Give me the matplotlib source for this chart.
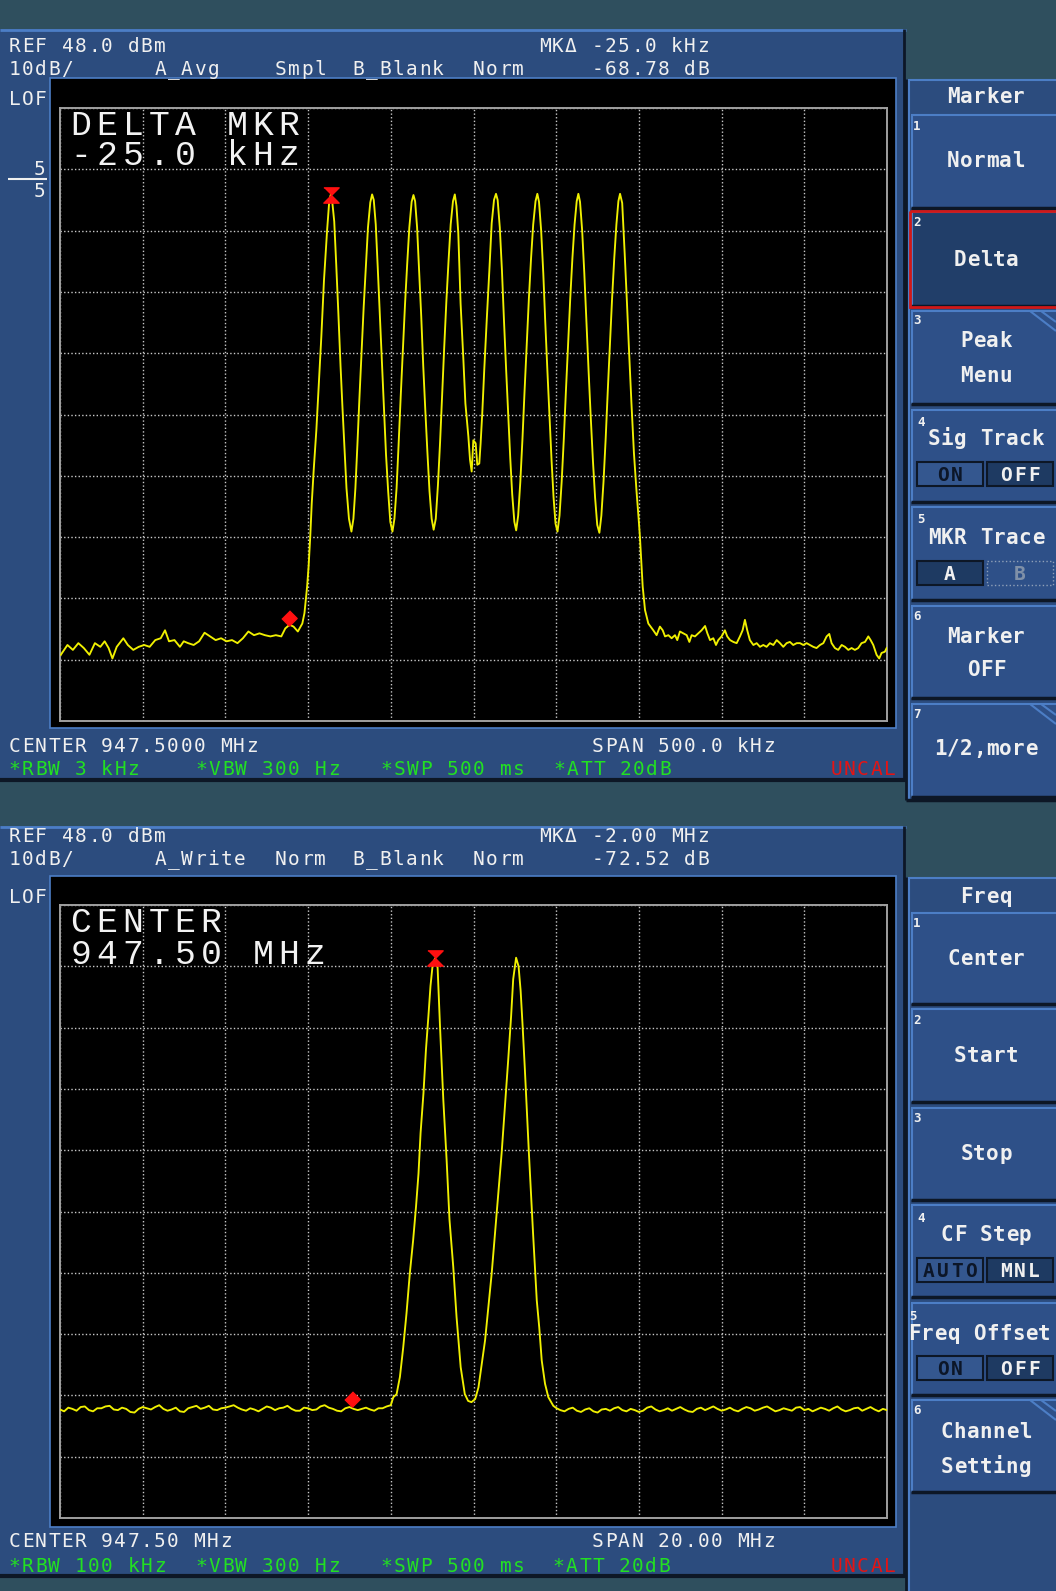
import matplotlib
matplotlib.use('Agg')
import matplotlib.pyplot as plt
import numpy as np
from matplotlib.patches import Rectangle
from matplotlib.transforms import ScaledTranslation

REF_DBM = 48.0      # top graticule line, 10 dB/div, 10 divisions
DB_DIV = 10.0

# upper screen: span 500 kHz around 947.5 MHz, x = offset in kHz, y = dBm
top_floor_left = [
    (-249.5, -41.2), (-245.5, -39.6), (-242.2, -40.4), (-238.9, -39.3), (-235.6, -40.1),
    (-232.2, -41.2), (-228.9, -39.3), (-225.6, -39.9), (-223.0, -39.0), (-220.6, -40.1),
    (-218.3, -41.8), (-215.7, -39.9), (-211.7, -38.5), (-209.0, -39.6), (-205.7, -40.4),
    (-202.4, -39.9), (-199.1, -39.6), (-195.8, -39.9), (-192.4, -38.8), (-189.1, -38.5),
    (-186.5, -37.2), (-184.1, -39.0), (-180.8, -38.8), (-177.5, -39.9), (-175.2, -39.0),
    (-172.5, -39.3), (-169.2, -39.6), (-165.9, -39.0), (-162.6, -37.6), (-159.3, -38.2),
    (-155.9, -38.8), (-152.6, -38.5), (-149.3, -39.0), (-146.0, -38.8), (-142.7, -39.3),
    (-139.4, -38.5), (-136.1, -37.4), (-132.7, -38.0), (-129.4, -37.7), (-126.1, -38.0),
    (-122.8, -38.2), (-119.5, -38.0), (-116.2, -38.2), (-113.8, -36.9), (-111.2, -36.3),
    (-108.8, -36.6), (-106.2, -37.4),
]
top_carriers = [
    (-103.5, -36.1), (-102.2, -34.4), (-100.6, -30.1), (-99.7, -26.8), (-98.7, -21.9),
    (-97.8, -16.5), (-96.6, -11.0), (-95.0, -4.5), (-93.6, 2.5), (-92.0, 10.7),
    (-90.4, 19.9), (-88.5, 28.1), (-87.3, 32.5), (-86.4, 33.8), (-85.5, 33.0),
    (-84.2, 29.5), (-83.0, 22.5), (-81.7, 14.5), (-80.4, 6.0), (-79.2, -1.0),
    (-78.0, -7.5), (-76.8, -14.0), (-75.3, -19.0), (-73.8, -21.1),
    (-72.6, -19.0), (-71.4, -14.0), (-70.2, -7.0), (-69.0, 0.5), (-67.7, 8.0),
    (-66.4, 15.5), (-65.1, 22.0), (-63.8, 28.5), (-62.4, 32.6), (-61.3, 33.9),
    (-60.3, 33.0), (-59.1, 29.0), (-57.9, 22.0), (-56.6, 14.0), (-55.3, 6.0),
    (-54.1, -1.5), (-52.9, -8.5), (-51.6, -14.5), (-50.3, -19.5), (-49.0, -21.1),
    (-47.8, -19.0), (-46.5, -14.0), (-45.3, -7.0), (-44.0, 1.0), (-42.7, 8.5),
    (-41.4, 16.0), (-40.1, 22.5), (-38.8, 28.5), (-37.4, 32.7), (-36.3, 33.8),
    (-35.3, 32.8), (-34.1, 28.5), (-32.9, 21.5), (-31.6, 14.0), (-30.4, 6.0),
    (-29.1, -1.5), (-27.9, -8.0), (-26.6, -14.5), (-25.3, -19.0), (-24.1, -20.8),
    (-22.8, -19.0), (-21.5, -13.5), (-20.2, -6.5), (-19.0, 1.0), (-17.7, 9.0),
    (-16.4, 16.5), (-15.1, 23.0), (-13.8, 29.0), (-12.4, 32.8), (-11.3, 33.9),
    (-10.3, 32.0), (-9.2, 27.6), (-7.8, 16.1), (-6.2, 7.4), (-4.9, -0.2),
    (-3.1, -5.6), (-2.1, -9.4), (-1.1, -11.3), (-0.1, -6.2), (1.3, -6.7),
    (2.3, -10.2), (3.5, -10.0), (4.3, -6.7), (5.3, -1.8), (6.5, 5.3),
    (8.0, 13.4), (9.6, 21.6), (11.0, 29.2), (12.4, 33.0), (13.6, 34.0),
    (14.6, 33.0), (15.9, 28.5), (17.2, 21.5), (18.4, 13.5), (19.7, 5.5),
    (21.0, -2.0), (22.2, -9.0), (23.4, -15.0), (24.7, -19.5), (25.8, -20.9),
    (27.0, -18.5), (28.3, -13.0), (29.6, -6.0), (30.9, 2.0), (32.2, 9.5),
    (33.5, 17.0), (34.8, 23.5), (36.1, 29.0), (37.5, 32.8), (38.6, 34.0),
    (39.6, 32.7), (40.9, 28.0), (42.2, 21.0), (43.4, 13.0), (44.7, 5.0),
    (46.0, -2.5), (47.2, -9.5), (48.4, -15.5), (49.6, -19.8), (50.8, -21.1),
    (52.0, -18.5), (53.3, -13.0), (54.6, -6.0), (55.9, 2.0), (57.2, 9.5),
    (58.5, 17.0), (59.8, 23.5), (61.1, 29.0), (62.4, 32.8), (63.4, 34.0),
    (64.4, 32.7), (65.7, 28.0), (67.0, 21.0), (68.3, 13.0), (69.6, 5.0),
    (70.9, -2.5), (72.2, -9.5), (73.5, -15.5), (74.8, -20.0), (76.1, -21.3),
    (77.3, -18.5), (78.6, -13.0), (79.9, -6.0), (81.2, 2.0), (82.5, 9.5),
    (83.8, 17.0), (85.1, 23.5), (86.4, 29.0), (87.6, 32.8), (88.6, 34.0),
    (89.9, 32.5), (91.4, 24.3), (92.8, 16.1), (94.1, 8.0), (95.5, -0.2),
    (97.0, -8.3), (98.5, -14.3), (99.9, -19.2), (100.6, -21.9), (101.5, -26.3),
    (102.3, -30.1), (103.7, -33.9), (105.7, -36.1),
]
top_floor_right = [
    (108.7, -37.2), (110.7, -38.0), (112.7, -36.6), (114.4, -37.2), (115.8, -38.2),
    (117.8, -38.0), (119.8, -38.5), (121.8, -38.0), (123.2, -38.8), (124.8, -37.4),
    (126.8, -37.7), (128.9, -38.0), (130.5, -39.1), (131.9, -38.0), (133.9, -38.2),
    (135.9, -37.7), (137.9, -37.2), (140.0, -36.5), (141.4, -37.7), (143.0, -38.8),
    (145.0, -38.5), (146.6, -39.6), (148.0, -38.8), (150.0, -38.2), (152.0, -37.2),
    (153.4, -38.2), (155.1, -38.8), (157.1, -39.1), (159.1, -39.3), (161.1, -38.2),
    (162.7, -37.2), (164.1, -35.5), (165.5, -37.2), (167.1, -38.8), (169.2, -39.6),
    (171.2, -39.3), (173.2, -39.9), (175.2, -39.6), (177.2, -39.9), (179.2, -39.3),
    (181.3, -39.6), (183.3, -38.8), (185.3, -39.3), (187.3, -39.9), (189.3, -39.3),
    (191.3, -39.1), (193.3, -39.6), (195.4, -39.3), (197.4, -39.3), (199.4, -39.6),
    (201.4, -39.3), (203.4, -39.6), (205.4, -39.9), (207.4, -40.1), (209.5, -39.6),
    (211.5, -39.3), (213.5, -38.2), (215.1, -37.8), (216.5, -39.3), (218.5, -40.1),
    (220.5, -40.4), (222.6, -39.6), (224.6, -39.9), (226.6, -40.4), (228.6, -40.1),
    (230.6, -40.4), (232.6, -40.1), (234.6, -39.3), (236.7, -39.1), (238.7, -38.2),
    (240.1, -38.8), (241.7, -39.6), (243.7, -41.2), (245.3, -41.8), (246.7, -40.9),
    (248.7, -40.7), (249.8, -40.1),
]
top_peak_mkr = (-86.4, 33.8)      # marker 1 (hourglass)
top_delta_mkr = (-111.4, -36.4)   # delta reference (diamond): -25.0 kHz

# lower screen: span 20 MHz, x = offset in MHz, y = dBm
bot_floor_left_mhz = np.linspace(-10.0, -2.0, 81)
bot_floor_left_dbm = [
    -34.3, -34.6, -34.0, -34.2, -34.5, -33.9, -33.8, -34.4, -34.6, -34.1,
    -34.1, -33.8, -33.7, -34.3, -34.4, -34.0, -34.2, -34.7, -34.8, -34.2,
    -33.9, -34.1, -34.3, -33.9, -33.6, -34.2, -34.5, -34.3, -34.0, -34.6,
    -34.7, -34.1, -33.9, -33.7, -34.2, -34.0, -33.7, -34.3, -34.4, -34.1,
    -34.0, -33.8, -33.6, -34.0, -34.3, -34.5, -34.1, -34.3, -34.6, -34.2,
    -33.8, -34.0, -34.4, -34.1, -34.0, -33.7, -34.2, -34.5, -34.5, -34.0,
    -34.1, -34.4, -34.3, -33.8, -33.6, -34.0, -34.2, -34.5, -34.6, -34.1,
    -33.9, -34.2, -34.4, -34.2, -34.0, -34.3, -34.5, -34.1, -34.1, -33.8,
    -33.6,
]
bot_carriers = [
    (-1.94, -32.3), (-1.86, -31.8), (-1.78, -29.0), (-1.70, -24.2), (-1.62, -18.6),
    (-1.54, -12.1), (-1.46, -6.7), (-1.39, -1.2), (-1.33, 4.2), (-1.28, 10.8),
    (-1.21, 17.3), (-1.15, 24.4), (-1.09, 29.9), (-1.04, 34.8), (-0.99, 38.1),
    (-0.93, 39.3), (-0.87, 38.1), (-0.81, 28.2), (-0.73, 16.2), (-0.65, 6.4),
    (-0.58, -3.4), (-0.49, -11.0), (-0.41, -19.2), (-0.31, -27.4), (-0.21, -31.8),
    (-0.13, -32.9), (-0.05, -33.1), (0.04, -32.6), (0.12, -30.7), (0.20, -26.9),
    (0.28, -23.0), (0.36, -17.6), (0.44, -12.1), (0.52, -5.6), (0.60, 1.0),
    (0.68, 7.5), (0.76, 15.2), (0.84, 22.8), (0.91, 29.9), (0.96, 35.9),
    (1.03, 39.4), (1.09, 38.0), (1.14, 34.0), (1.19, 28.0), (1.24, 21.5),
    (1.29, 14.5), (1.34, 7.5), (1.39, 1.0), (1.44, -5.5), (1.49, -11.5),
    (1.53, -16.5), (1.59, -20.9), (1.65, -26.3), (1.73, -30.1), (1.81, -32.3),
    (1.93, -33.7), (2.01, -34.1),
]
bot_floor_right_mhz = np.linspace(2.1, 10.0, 80)
bot_floor_right_dbm = [
    -34.4, -34.6, -34.2, -34.0, -34.5, -34.7, -34.3, -34.1, -34.6, -34.8,
    -34.3, -34.2, -34.5, -34.1, -33.9, -34.4, -34.6, -34.2, -34.4, -34.7,
    -34.5, -34.0, -33.8, -34.3, -34.6, -34.4, -34.1, -34.5, -34.2, -33.9,
    -34.3, -34.6, -34.7, -34.2, -34.0, -34.4, -34.1, -33.8, -34.2, -34.5,
    -34.3, -34.0, -34.4, -34.6, -34.2, -33.9, -34.1, -34.5, -34.3, -34.0,
    -33.8, -34.2, -34.6, -34.4, -34.1, -34.3, -34.5, -34.0, -33.9, -34.4,
    -34.2, -34.6, -34.3, -34.0, -34.2, -34.5, -34.1, -33.8, -34.3, -34.6,
    -34.4, -34.1, -34.0, -34.5, -34.2, -33.9, -34.3, -34.6, -34.2, -34.4,
]
bot_peak_mkr = (-0.93, 39.3)
bot_delta_mkr = (-2.93, -33.9)    # -2.00 MHz

# ---------------- screen look ----------------
W, H = 1056, 1591
TEAL = '#2F4F5E'
PANEL = '#2C4C7E'
BTN = '#2E5088'
BTN_SEL = '#213E69'
LITE = '#4C7EC6'
DARK = '#0D1726'
GRID = '#C8C8C8'
WHITE = '#F0F0F0'
GREEN = '#22E022'
RED = '#E41414'
YELLOW = '#F0F000'
GX0, GW, GH = 60, 827, 613    # graticule in pixels

fig = plt.figure(figsize=(W / 100, H / 100), dpi=100, facecolor=TEAL)
bg = fig.add_axes([0, 0, 1, 1], zorder=0)
bg.set_xlim(0, W)
bg.set_ylim(H, 0)
bg.axis('off')


def box(x0, y0, x1, y1, fc, ec='none', lw=0, ls='-', z=1):
    bg.add_patch(Rectangle((x0, y0), x1 - x0, y1 - y0, facecolor=fc,
                           edgecolor=ec, linewidth=lw, linestyle=ls, zorder=z))


def seg(x0, y0, x1, y1, c, lw=1.5, z=2):
    bg.plot([x0, x1], [y0, y1], color=c, lw=lw, zorder=z, solid_capstyle='butt')


def mono(x, y, s, pitch=13.2, size=14, color=WHITE, family='DejaVu Sans Mono', weight='normal'):
    # fixed pitch, one glyph per cell like the instrument font
    for i, ch in enumerate(s):
        if ch != ' ':
            fig.text((x + pitch * (i + 0.5)) / W, 1 - y / H, ch, fontsize=size, color=color,
                     family=family, weight=weight, ha='center', va='baseline')


def mono_c(cx, y, s, pitch=13.0, size=15, **kw):
    mono(cx - pitch * len(s) / 2, y, s, pitch, size, **kw)


def big(x, y, s):
    mono(x, y, s, pitch=26, size=25, color='#F2F2F2', family='Liberation Mono')


def screen(top, bot, frame):
    box(0, top, 906, bot, PANEL)
    seg(0, top + 1, 906, top + 1, LITE, 2)
    seg(0, bot, 906, bot, DARK, 3)
    seg(904, top, 904, bot, DARK, 2)
    box(50, frame[0], 896, frame[1], 'black', ec=LITE, lw=1.2, z=2)


def trace_axes(y_top, half_span):
    ax = fig.add_axes([GX0 / W, 1 - (y_top + GH) / H, GW / W, GH / H], zorder=2)
    ax.set_facecolor('black')
    ax.set_xlim(-half_span, half_span)
    ax.set_ylim(REF_DBM - 10 * DB_DIV, REF_DBM)
    ax.set_xticks(np.linspace(-half_span, half_span, 11))
    ax.set_yticks(np.linspace(REF_DBM - 10 * DB_DIV, REF_DBM, 11))
    ax.tick_params(length=0, labelbottom=False, labelleft=False)
    ax.grid(True, color=GRID, linestyle=(0, (1, 1.6)), linewidth=1.0)
    for sp in ax.spines.values():
        sp.set_color('#A0A0A0')
        sp.set_linewidth(1.4)
    return ax


HOURGLASS = [(-1, 1), (1, 1), (0, 0), (1, -1), (-1, -1), (0, 0)]
DIAMOND = [(0, 1), (1, 0), (0, -1), (-1, 0)]
lift = ScaledTranslation(0, 5.5 / 72, fig.dpi_scale_trans)


def draw_trace(ax, xs, ys, peak, delta):
    ax.plot(xs, ys, color=YELLOW, lw=1.35, zorder=3)
    ax.plot(*peak, marker=HOURGLASS, ms=11, color='#FF1010', ls='none', zorder=4)
    ax.plot(*delta, marker=DIAMOND, ms=11, color='#FF1010', ls='none', zorder=4,
            transform=ax.transData + lift)


# ---- upper screen ----
screen(29, 780, (78, 728))
ax1 = trace_axes(108, 250)
pts = top_floor_left + top_carriers + top_floor_right
draw_trace(ax1, [p[0] for p in pts], [p[1] for p in pts], top_peak_mkr, top_delta_mkr)

mono(8, 52, "REF 48.0 dBm")
mono(8, 75, "10dB/")
mono(154, 75, "A_Avg")
mono(274, 75, "Smpl")
mono(352, 75, "B_Blank")
mono(472, 75, "Norm")
mono(538, 52, "MKΔ -25.0 kHz")
mono(591, 75, "-68.78 dB")
mono(8, 105, "LOF")
mono(33, 175, "5")
seg(8, 179, 47, 179, WHITE, 1.5, 3)
mono(33, 197, "5")
mono(8, 752, "CENTER 947.5000 MHz")
mono(591, 752, "SPAN 500.0 kHz")
mono(8, 775, "*RBW 3 kHz", color=GREEN)
mono(195, 775, "*VBW 300 Hz", color=GREEN)
mono(380, 775, "*SWP 500 ms", color=GREEN)
mono(553, 775, "*ATT 20dB", color=GREEN)
mono(830, 775, "UNCAL", color=RED)
big(68, 135, "DELTA MKR")
big(68, 165, "-25.0 kHz")

# ---- lower screen ----
screen(826, 1576, (876, 1527))
ax2 = trace_axes(905, 10)
bx = list(bot_floor_left_mhz) + [p[0] for p in bot_carriers] + list(bot_floor_right_mhz)
by = list(bot_floor_left_dbm) + [p[1] for p in bot_carriers] + list(bot_floor_right_dbm)
draw_trace(ax2, bx, by, bot_peak_mkr, bot_delta_mkr)

mono(8, 842, "REF 48.0 dBm")
mono(8, 865, "10dB/")
mono(154, 865, "A_Write")
mono(274, 865, "Norm")
mono(352, 865, "B_Blank")
mono(472, 865, "Norm")
mono(538, 842, "MKΔ -2.00 MHz")
mono(591, 865, "-72.52 dB")
mono(8, 903, "LOF")
mono(8, 1547, "CENTER 947.50 MHz")
mono(591, 1547, "SPAN 20.00 MHz")
mono(8, 1572, "*RBW 100 kHz", color=GREEN)
mono(195, 1572, "*VBW 300 Hz", color=GREEN)
mono(380, 1572, "*SWP 500 ms", color=GREEN)
mono(552, 1572, "*ATT 20dB", color=GREEN)
mono(830, 1572, "UNCAL", color=RED)
big(68, 932, "CENTER")
big(68, 964, "947.50 MHz")


# ---- soft-key menus ----
def menu_column(y0, y1, title, title_base):
    box(906, y0, W, y1, PANEL)
    seg(906, y0, 906, y1, DARK, 2)
    seg(908, y0 + 1, W, y0 + 1, LITE, 1.5)
    seg(908.5, y0, 908.5, y1, LITE, 1.5)
    mono_c(986, title_base, title, weight='bold')


def button(y0, y1, num, nx, ny, selected=False, corner=False):
    box(911, y0, W + 2, y1, BTN_SEL if selected else BTN, z=2)
    seg(911, y0, W, y0, LITE, 1.5, 3)
    seg(911.5, y0, 911.5, y1, LITE, 1.5, 3)
    seg(911, y1, W, y1, DARK, 2.5, 3)
    if selected:
        box(910, y0 - 1, W + 3, y1 + 1, 'none', ec='#D01818', lw=2, z=4)
    if corner:
        seg(1030, y0, W, y0 + 20, LITE, 1.5, 3)
        seg(1041, y0, W, y0 + 11, LITE, 1.5, 3)
    fig.text(nx / W, 1 - ny / H, num, fontsize=9, color=WHITE, family='DejaVu Sans Mono',
             weight='bold', ha='left', va='baseline')


def toggle(yc, left, right, on_right=True, dotted=False):
    for x0, x1, s, on in ((917, 983, left, not on_right), (987, 1053, right, on_right)):
        if dotted and not on:
            box(x0, yc - 12, x1, yc + 12, 'none', ec='#8FA0B8', lw=1, ls=':', z=3)
            col = '#7F90A8'
        else:
            box(x0, yc - 12, x1, yc + 12, '#1E3A62' if on else '#34578F', ec=DARK, lw=1.5, z=3)
            col = WHITE if on else '#0C1628'
        mono_c((x0 + x1) / 2, yc + 7, s, pitch=14.0, size=14, color=col, weight='bold')


menu_column(79, 800, "Marker", 103)
seg(906, 800, W, 800, DARK, 2.5)
button(115, 208, "1", 913, 130)
mono_c(986, 167, "Normal", weight='bold')
button(212, 306, "2", 913, 226, selected=True)
mono_c(986, 266, "Delta", weight='bold')
button(311, 404, "3", 913, 324, corner=True)
mono_c(986, 347, "Peak", weight='bold')
mono_c(986, 382, "Menu", weight='bold')
button(410, 502, "4", 917, 426)
mono_c(986, 445, "Sig Track", weight='bold')
toggle(474, "ON", "OFF")
button(507, 600, "5", 917, 523)
mono_c(986, 544, "MKR Trace", weight='bold')
toggle(573, "A", "B", on_right=False, dotted=True)
button(606, 698, "6", 913, 620)
mono_c(986, 643, "Marker", weight='bold')
mono_c(986, 676, "OFF", weight='bold')
button(704, 797, "7", 913, 718, corner=True)
mono_c(986, 755, "1/2,more", weight='bold')

menu_column(877, H + 2, "Freq", 903)
button(913, 1004, "1", 913, 927)
mono_c(986, 965, "Center", weight='bold')
button(1009, 1102, "2", 913, 1024)
mono_c(986, 1062, "Start", weight='bold')
button(1108, 1200, "3", 913, 1122)
mono_c(986, 1160, "Stop", weight='bold')
button(1205, 1297, "4", 917, 1222)
mono_c(986, 1241, "CF Step", weight='bold')
toggle(1270, "AUTO", "MNL")
button(1303, 1395, "5", 909, 1320)
mono(908, 1340, "Freq Offset", pitch=13.0, size=15, weight='bold')
toggle(1368, "ON", "OFF")
button(1400, 1492, "6", 913, 1414, corner=True)
mono_c(986, 1438, "Channel", weight='bold')
mono_c(986, 1473, "Setting", weight='bold')

fig.savefig('out.png', dpi=100, facecolor=TEAL)
